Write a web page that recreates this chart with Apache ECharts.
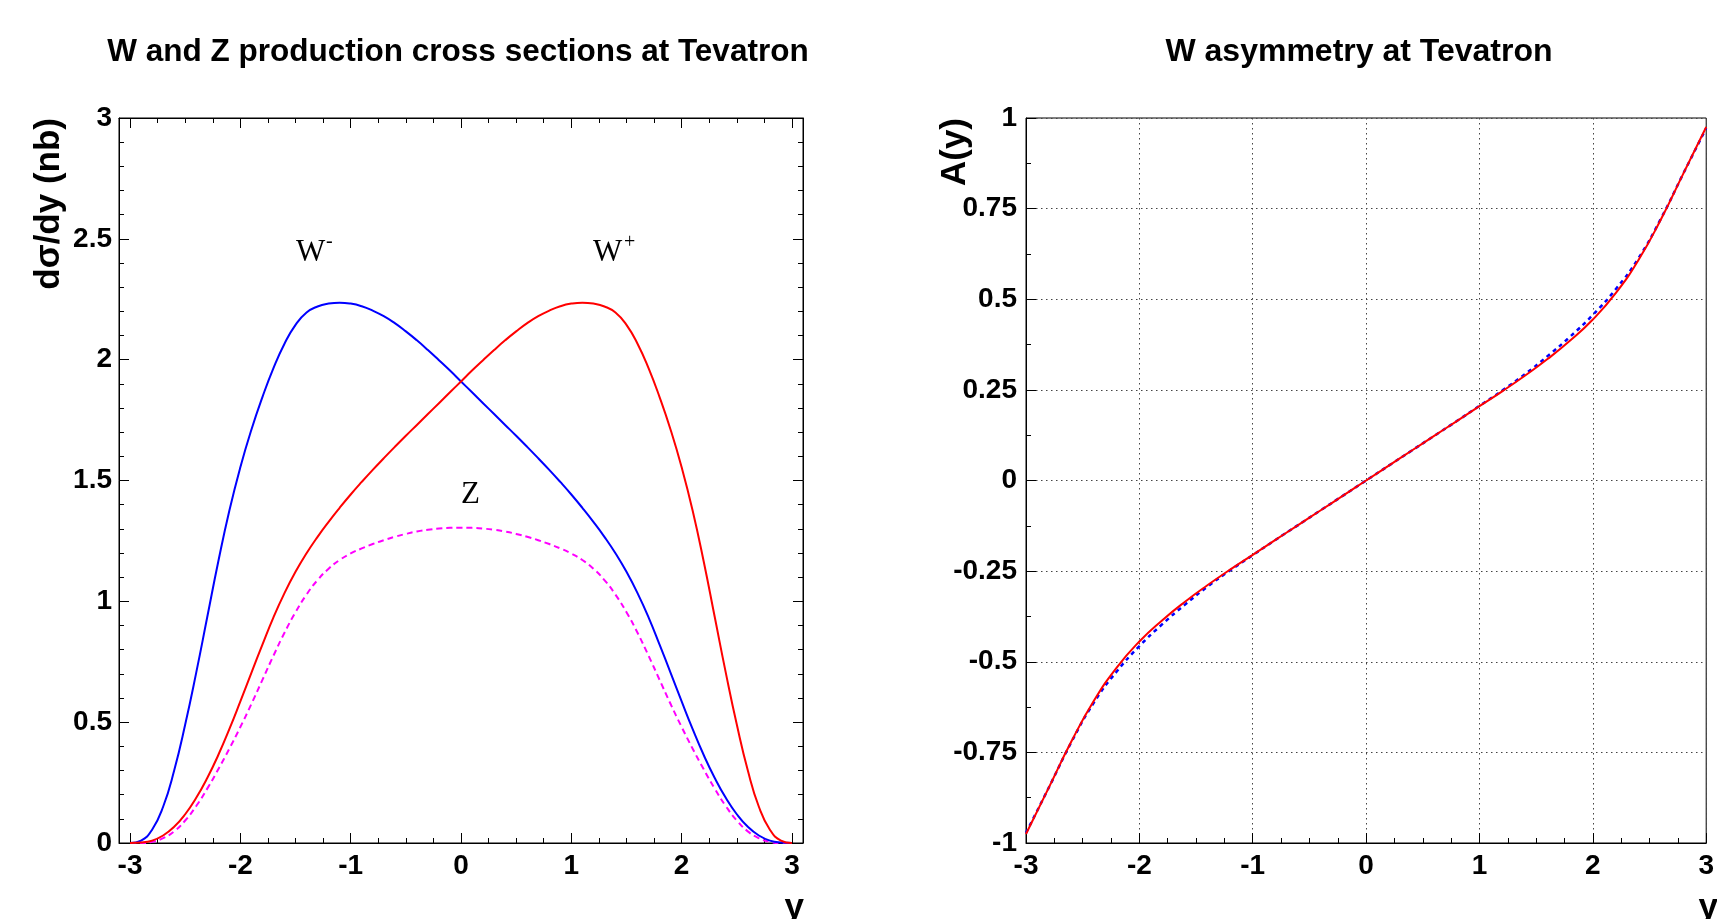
<!DOCTYPE html>
<html><head><meta charset="utf-8">
<script src="https://cdn.jsdelivr.net/npm/echarts@6/dist/echarts.min.js"></script>
<style>html,body{margin:0;padding:0;background:#fff;}#c{width:1717px;height:919px;}</style>
</head><body><div id="c"></div>
<script>
// ---- Left panel: d sigma / dy (nb) vs rapidity y ----
const rapidity = [-3.0,-2.9,-2.8,-2.7,-2.6,-2.5,-2.4,-2.3,-2.2,-2.1,-2.0,-1.9,-1.8,-1.7,-1.6,-1.5,-1.4,-1.3,-1.2,-1.1,-1.0,-0.9,-0.8,-0.7,-0.6,-0.5,-0.4,-0.3,-0.2,-0.1,0.0,0.1,0.2,0.3,0.4,0.5,0.6,0.7,0.8,0.9,1.0,1.1,1.2,1.3,1.4,1.5,1.6,1.7,1.8,1.9,2.0,2.1,2.2,2.3,2.4,2.5,2.6,2.7,2.8,2.9,3.0];
const wMinus = [0,0.01,0.055,0.15,0.3,0.49,0.705,0.935,1.165,1.375,1.555,1.71,1.845,1.965,2.066,2.144,2.195,2.22,2.232,2.236,2.232,2.221,2.203,2.18,2.151,2.117,2.08,2.04,1.998,1.955,1.91,1.865,1.82,1.775,1.73,1.685,1.639,1.592,1.544,1.494,1.442,1.387,1.329,1.267,1.199,1.122,1.034,0.934,0.821,0.704,0.586,0.471,0.364,0.269,0.187,0.119,0.067,0.031,0.01,0.002,0];
const wPlus = [0,0.002,0.01,0.031,0.067,0.119,0.187,0.269,0.364,0.471,0.586,0.704,0.821,0.934,1.034,1.122,1.199,1.267,1.329,1.387,1.442,1.494,1.544,1.592,1.639,1.685,1.73,1.775,1.82,1.865,1.91,1.955,1.998,2.04,2.08,2.117,2.151,2.18,2.203,2.221,2.232,2.236,2.232,2.22,2.195,2.144,2.066,1.965,1.845,1.71,1.555,1.375,1.165,0.935,0.705,0.49,0.3,0.15,0.055,0.01,0];
const zBoson = [0,0,0.005,0.02,0.048,0.093,0.153,0.225,0.305,0.39,0.48,0.575,0.675,0.775,0.87,0.955,1.028,1.088,1.135,1.171,1.198,1.219,1.237,1.253,1.267,1.279,1.289,1.296,1.301,1.304,1.305,1.304,1.301,1.296,1.289,1.279,1.267,1.253,1.237,1.219,1.198,1.171,1.135,1.088,1.028,0.955,0.87,0.775,0.675,0.575,0.48,0.39,0.305,0.225,0.153,0.093,0.048,0.02,0.005,0,0];
const leftXMajor = [-3,-2,-1,0,1,2,3];
const leftXMinor = [-2.75,-2.5,-2.25,-1.75,-1.5,-1.25,-0.75,-0.5,-0.25,0.25,0.5,0.75,1.25,1.5,1.75,2.25,2.5,2.75];

// ---- Right panel: W asymmetry A(y) ----
const rapidityA = [-3.0,-2.8,-2.6,-2.4,-2.2,-2.0,-1.8,-1.6,-1.4,-1.2,-1.0,-0.8,-0.6,-0.4,-0.2,0.0,0.2,0.4,0.6,0.8,1.0,1.2,1.4,1.6,1.8,2.0,2.2,2.4,2.6,2.8,3.0];
const asymSolid = [-0.975,-0.848,-0.72,-0.607,-0.516,-0.444,-0.386,-0.335,-0.289,-0.246,-0.205,-0.164,-0.123,-0.082,-0.041,0,0.041,0.082,0.123,0.164,0.205,0.246,0.289,0.335,0.386,0.444,0.516,0.607,0.72,0.848,0.975];
const asymDashed = [-0.972,-0.848,-0.722,-0.612,-0.527,-0.457,-0.397,-0.343,-0.293,-0.248,-0.206,-0.164,-0.123,-0.082,-0.041,0,0.041,0.082,0.123,0.164,0.206,0.248,0.293,0.343,0.397,0.457,0.527,0.612,0.722,0.848,0.972];

function pairs(xs, ys) { return xs.map((x, i) => [x, ys[i]]); }

const FONT = 'Liberation Sans';
const labelStyle = { fontFamily: FONT, fontWeight: 'bold', fontSize: 28, color: '#000' };
const black = { color: '#000', width: 1 };
const dotted = { color: '#444', width: 1, type: [1.5, 3.5] };
const SMOOTH = 0.5;

const chart = echarts.init(document.getElementById('c'), null, { renderer: 'canvas' });

function tickOnlyX(grid, pos, values, len, showLine) {
  return {
    type: 'value', gridIndex: grid, position: pos, min: -3.1, max: 3.1,
    axisLine: { show: showLine, onZero: false, lineStyle: black },
    axisTick: { show: true, inside: true, length: len, customValues: values, lineStyle: black },
    axisLabel: { show: false }, splitLine: { show: false }
  };
}

const option = {
  animation: false,
  backgroundColor: '#fff',
  grid: [
    { left: 119, top: 118, width: 684, height: 725, show: true, borderColor: '#000', borderWidth: 1, containLabel: false },
    { left: 1026, top: 118, width: 684, height: 725, show: true, borderColor: '#000', borderWidth: 1, containLabel: false }
  ],
  xAxis: [
    {
      type: 'value', gridIndex: 0, position: 'bottom', min: -3.1, max: 3.1,
      axisLine: { show: true, onZero: false, lineStyle: black },
      axisTick: { show: true, inside: true, length: 10, customValues: leftXMajor, lineStyle: black },
      axisLabel: Object.assign({ customValues: leftXMajor, margin: 9 }, labelStyle),
      splitLine: { show: false }
    },
    tickOnlyX(0, 'bottom', leftXMinor, 5, false),
    tickOnlyX(0, 'top', leftXMajor, 10, true),
    tickOnlyX(0, 'top', leftXMinor, 5, false),
    {
      type: 'value', gridIndex: 1, position: 'bottom', min: -3, max: 3, interval: 1,
      axisLine: { show: true, onZero: false, lineStyle: black },
      axisTick: { show: true, inside: true, length: 10, lineStyle: black },
      minorTick: { show: true, splitNumber: 4, length: 5, lineStyle: black },
      axisLabel: Object.assign({ margin: 9 }, labelStyle),
      splitLine: { show: true, lineStyle: dotted }
    }
  ],
  yAxis: [
    {
      type: 'value', gridIndex: 0, position: 'left', min: 0, max: 3, interval: 0.5,
      axisLine: { show: true, onZero: false, lineStyle: black },
      axisTick: { show: true, inside: true, length: 10, lineStyle: black },
      minorTick: { show: true, splitNumber: 5, length: 5, lineStyle: black },
      axisLabel: Object.assign({ margin: 7 }, labelStyle),
      splitLine: { show: false }
    },
    {
      type: 'value', gridIndex: 0, position: 'right', min: 0, max: 3, interval: 0.5,
      axisLine: { show: true, onZero: false, lineStyle: black },
      axisTick: { show: true, inside: true, length: 10, lineStyle: black },
      minorTick: { show: true, splitNumber: 5, length: 5, lineStyle: black },
      axisLabel: { show: false },
      splitLine: { show: false }
    },
    {
      type: 'value', gridIndex: 1, position: 'left', min: -1, max: 1, interval: 0.25,
      axisLine: { show: true, onZero: false, lineStyle: black },
      axisTick: { show: true, inside: true, length: 10, lineStyle: black },
      minorTick: { show: true, splitNumber: 2, length: 5, lineStyle: black },
      axisLabel: Object.assign({ margin: 9 }, labelStyle),
      splitLine: { show: true, lineStyle: dotted }
    }
  ],
  series: [
    { name: 'Z', type: 'line', xAxisIndex: 0, yAxisIndex: 0, data: pairs(rapidity, zBoson),
      smooth: SMOOTH, symbol: 'none', lineStyle: { color: '#ff00ff', width: 2, type: [6, 4] } },
    { name: 'W-', type: 'line', xAxisIndex: 0, yAxisIndex: 0, data: pairs(rapidity, wMinus),
      smooth: SMOOTH, symbol: 'none', lineStyle: { color: '#0000ff', width: 2 } },
    { name: 'W+', type: 'line', xAxisIndex: 0, yAxisIndex: 0, data: pairs(rapidity, wPlus),
      smooth: SMOOTH, symbol: 'none', lineStyle: { color: '#ff0000', width: 2 } },
    { name: 'A dashed', type: 'line', xAxisIndex: 4, yAxisIndex: 2, data: pairs(rapidityA, asymDashed),
      smooth: SMOOTH, symbol: 'none', lineStyle: { color: '#0000ff', width: 2.5, type: [4, 4] } },
    { name: 'A solid', type: 'line', xAxisIndex: 4, yAxisIndex: 2, data: pairs(rapidityA, asymSolid),
      smooth: SMOOTH, symbol: 'none', lineStyle: { color: '#ff0000', width: 2 } }
  ],
  graphic: [
    { type: 'text', x: 458, y: 52, style: { text: 'W and Z production cross sections at Tevatron', fontFamily: FONT, fontWeight: 'bold', fontSize: 31.5, fill: '#000', align: 'center', verticalAlign: 'middle' } },
    { type: 'text', x: 1359, y: 52, style: { text: 'W asymmetry at Tevatron', fontFamily: FONT, fontWeight: 'bold', fontSize: 32, fill: '#000', align: 'center', verticalAlign: 'middle' } },
    { type: 'text', x: 49, y: 118, rotation: Math.PI / 2, style: { text: 'dσ/dy (nb)', fontFamily: FONT, fontWeight: 'bold', fontSize: 35, fill: '#000', align: 'right', verticalAlign: 'middle' } },
    { type: 'text', x: 955, y: 118, rotation: Math.PI / 2, style: { text: 'A(y)', fontFamily: FONT, fontWeight: 'bold', fontSize: 35, fill: '#000', align: 'right', verticalAlign: 'middle' } },
    { type: 'text', x: 804, y: 908, style: { text: 'y', fontFamily: FONT, fontWeight: 'bold', fontSize: 35, fill: '#000', align: 'right', verticalAlign: 'middle' } },
    { type: 'text', x: 1718, y: 908, style: { text: 'y', fontFamily: FONT, fontWeight: 'bold', fontSize: 35, fill: '#000', align: 'right', verticalAlign: 'middle' } },
    { type: 'text', x: 296, y: 253, style: { text: 'W', fontFamily: 'Liberation Serif', fontSize: 31, fill: '#000', align: 'left', verticalAlign: 'middle' } },
    { type: 'text', x: 326, y: 242, style: { text: '-', fontFamily: 'Liberation Serif', fontSize: 20, fill: '#000', align: 'left', verticalAlign: 'middle' } },
    { type: 'text', x: 593, y: 253, style: { text: 'W', fontFamily: 'Liberation Serif', fontSize: 31, fill: '#000', align: 'left', verticalAlign: 'middle' } },
    { type: 'text', x: 624, y: 243, style: { text: '+', fontFamily: 'Liberation Serif', fontSize: 20, fill: '#000', align: 'left', verticalAlign: 'middle' } },
    { type: 'text', x: 461, y: 495, style: { text: 'Z', fontFamily: 'Liberation Serif', fontSize: 31, fill: '#000', align: 'left', verticalAlign: 'middle' } }
  ]
};
chart.setOption(option);
</script>
</body></html>
